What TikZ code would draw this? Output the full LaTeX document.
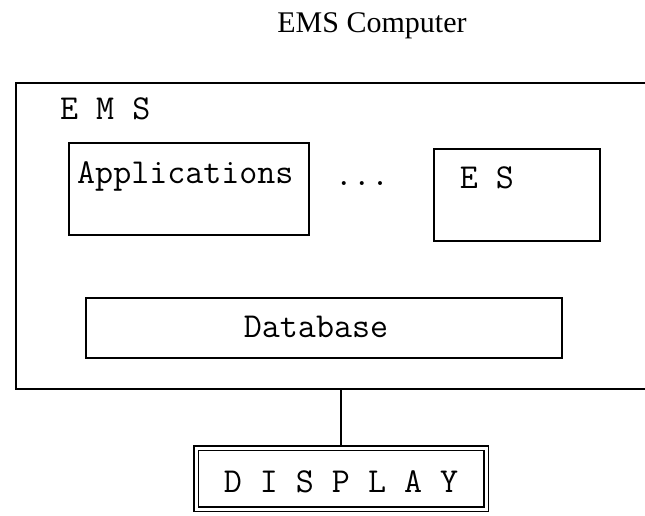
\documentclass[tikz,border=0pt]{standalone}
\usepackage{fontspec}
\setmainfont{Liberation Serif}
\begin{document}
\begin{tikzpicture}[x=1pt,y=-1pt,
  box/.style={draw=black,line width=2pt,rectangle,inner sep=0pt},
  txt/.style={font=\ttfamily\fontsize{35}{40}\selectfont,inner sep=0pt},
  conn/.style={draw=black,line width=1.5pt}]
  % page frame
  \clip (0,0) rectangle (645,516);
  \useasboundingbox (0,0) rectangle (645,516);

  % title
  \node[font=\fontsize{30}{35}\selectfont,inner sep=0pt,anchor=base] (title) at (372,33) {EMS Computer};

  % outer EMS system box (runs past the right edge)
  \node[box,minimum width=644pt,minimum height=306pt] (ems) at (338,236) {};
  \node[txt,anchor=base west] (emslbl) at (60,120) {E M S};

  % inner components
  \node[box,minimum width=240pt,minimum height=91pt] (apps) at (189,189) {};
  \node[txt,anchor=base west] (appslbl) at (77,183) {Applications};
  \node[txt,anchor=base] (dots) at (362,185) {...};
  \node[box,minimum width=166pt,minimum height=92pt] (es) at (517,195) {};
  \node[txt,anchor=base] (eslbl) at (487,188) {E S};
  \node[box,minimum width=476pt,minimum height=60pt] (db) at (324,328) {};
  \node[txt,anchor=base] (dblbl) at (316,337) {Database};

  % display unit
  \node[draw=black,rectangle,line width=1.6pt,double,double distance=3pt,
        minimum width=290pt,minimum height=61pt,inner sep=0pt] (disp) at (341,478.5) {};
  \node[txt,anchor=base] (displbl) at (341,492) {D I S P L A Y};

  % link between system and display
  \draw[conn] (ems.south -| disp.north) -- (disp.north);
\end{tikzpicture}
\end{document}
